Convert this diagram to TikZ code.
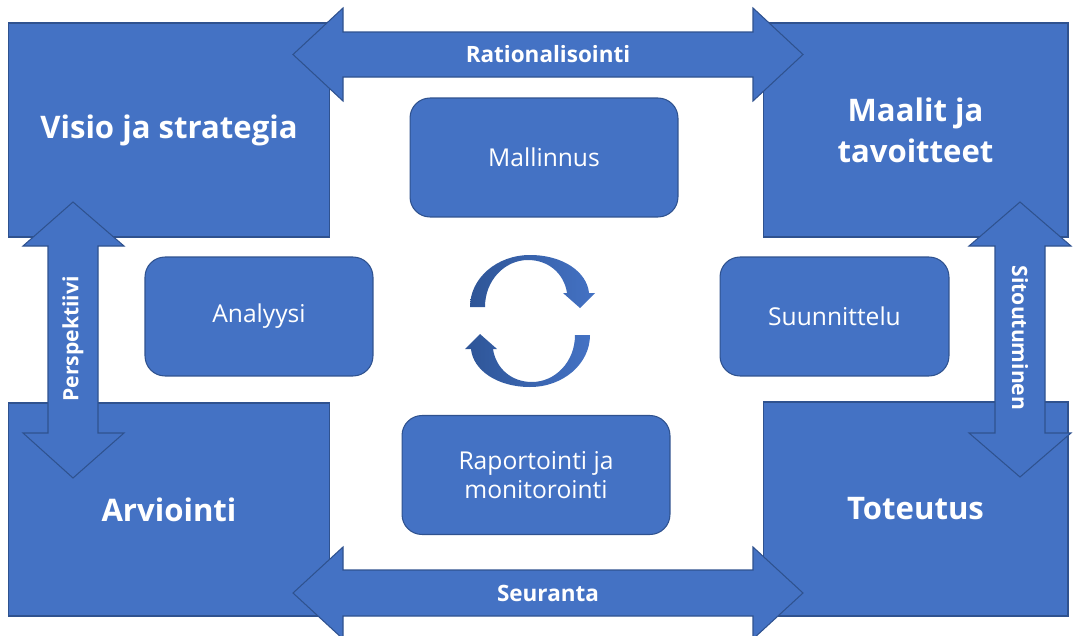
\documentclass[tikz,border=0pt]{standalone}
\usepackage{fontspec}
\setmainfont{Open Sans}
\definecolor{officeblue}{HTML}{4472C4}
\definecolor{edgeblue}{HTML}{2F528F}
\definecolor{cycdark}{HTML}{2E5597}

\begin{document}
\begin{tikzpicture}[x=0.02cm,y=-0.02cm,
	corner/.style={rectangle,fill=officeblue,draw=edgeblue,line width=0.6pt,inner sep=0pt,
		minimum width=6.44cm,minimum height=4.28cm,text=white,align=center,
		font=\fontsize{17.7}{23.5}\selectfont\bfseries},
	stage/.style={rectangle,rounded corners=0.4cm,fill=officeblue,draw=edgeblue,line width=0.6pt,
		minimum width=5.36cm,minimum height=2.38cm,text=white,align=center,
		font=\fontsize{14}{16.5}\selectfont},
	band/.style={fill=officeblue,draw=edgeblue,line width=0.6pt},
	bandtext/.style={text=white,inner sep=0pt,font=\fontsize{12.8}{14}\selectfont\bfseries}]
	\useasboundingbox (0,0) rectangle (1076,636);
	% corner fields
	\node[corner] (VS) at (169,130) {Visio ja strategia};
	\node[corner,minimum width=6.1cm] (MT) at (915.5,130) {Maalit ja\\tavoitteet};
	\node[corner,minimum height=4.26cm] (AR) at (169,509.5) {Arviointi};
	\node[corner,minimum width=6.1cm] (TT) at (915.5,509) {Toteutus};
	% double arrows
	\draw[band] (293,54.5) -- (343,8) -- (343,32) -- (753,32) -- (753,8) -- (803,54.5)
		-- (753,101) -- (753,77) -- (343,77) -- (343,101) -- cycle;
	\draw[band] (293,593) -- (343,547) -- (343,570) -- (753,570) -- (753,547) -- (803,593)
		-- (753,639) -- (753,616) -- (343,616) -- (343,639) -- cycle;
	\draw[band] (73,202) -- (124,246) -- (98,246) -- (98,433) -- (124,433) -- (73,478)
		-- (23,433) -- (48,433) -- (48,246) -- (23,246) -- cycle;
	\draw[band] (1020,202) -- (1071,246) -- (1045,246) -- (1045,433) -- (1071,433) -- (1020,477)
		-- (969,433) -- (995,433) -- (995,246) -- (969,246) -- cycle;
	\node[bandtext] (rat) at (548,54.5) {Rationalisointi};
	\node[bandtext] (seu) at (548,593) {Seuranta};
	\node[bandtext,font=\fontsize{12}{14}\selectfont\bfseries,rotate=90] (per) at (73,339) {Perspektiivi};
	\node[bandtext,font=\fontsize{12}{14}\selectfont\bfseries,rotate=-90] (sit) at (1020,338) {Sitoutuminen};
	% stages
	\node[stage] (MA) at (544,157.5) {Mallinnus};
	\node[stage,minimum width=4.56cm] (AN) at (259,316.5) {Analyysi};
	\node[stage,minimum width=4.58cm] (SU) at (834.5,316.5) {Suunnittelu};
	\node[stage] (RM) at (536,475) {Raportointi ja\\monitorointi};
	% cycle
	\foreach \turn in {0,180}
		\shade[left color=cycdark,right color=officeblue,rotate around={\turn:(530,321)}]
			(470,307) .. controls (470,278) and (497,255) .. (530,255)
			.. controls (563,255) and (587,272) .. (589,293)
			-- (595,293) -- (580,308) -- (563,293) -- (567,293)
			.. controls (564,273) and (548,260) .. (528,260)
			.. controls (505,260) and (485,280) .. (485,307) -- cycle;
\end{tikzpicture}
\end{document}
